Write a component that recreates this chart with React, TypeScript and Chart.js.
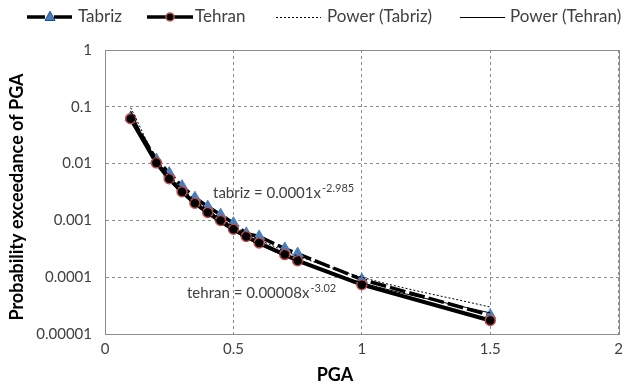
import React, { useEffect, useRef } from "react";
import { Chart, registerables } from "chart.js";

Chart.register(...registerables);

const pga = [0.1, 0.2, 0.25, 0.3, 0.35, 0.4, 0.45, 0.5, 0.55, 0.6, 0.7, 0.75, 1.0, 1.5];
const tabriz = [0.065, 0.0118, 0.0068, 0.004, 0.0025, 0.00175, 0.00126, 0.00089, 0.00059, 0.00052, 0.00032, 0.00026, 0.000091, 0.0000213];
const tehran = [0.0618, 0.0103, 0.0054, 0.0032, 0.002, 0.00138, 0.001, 0.0007, 0.00052, 0.0004, 0.00025, 0.000195, 0.000074, 0.0000173];
const tabrizPower = [0.0966, 0.0122, 0.00627, 0.00364, 0.0023, 0.00154, 0.00108, 0.00079, 0.000596, 0.000459, 0.00029, 0.000236, 0.0001, 0.0000298];
const tehranPower = [0.0838, 0.0103, 0.00526, 0.00303, 0.0019, 0.00127, 0.00089, 0.00065, 0.000487, 0.000374, 0.000235, 0.00019, 0.00008, 0.0000235];

const xTicks = [0, 0.5, 1, 1.5, 2];
const xTickLabels = ["0", "0.5", "1", "1.5", "2"];
const yTicks = [0.00001, 0.0001, 0.001, 0.01, 0.1, 1];
const yTickLabels = ["0.00001", "0.0001", "0.001", "0.01", "0.1", "1"];

const seriesNames = ["Tabriz", "Tehran", "Power (Tabriz)", "Power (Tehran)"];
const xTitle = "PGA";
const yTitle = "Probability exceedance of PGA";
const eqTabriz = ["tabriz = 0.0001x", "-2.985"];
const eqTehran = ["tehran = 0.00008x", "-3.02"];

const FONT = "Lato, 'Open Sans', sans-serif";
const TEXT = "#404040";

const pts = (ys: number[]) => pga.map((x, i) => ({ x, y: ys[i] }));

function drawTriangle(ctx: CanvasRenderingContext2D, x: number, y: number, r: number) {
  ctx.beginPath();
  ctx.moveTo(x, y - r * 1.15);
  ctx.lineTo(x + r, y + r * 0.7);
  ctx.lineTo(x - r, y + r * 0.7);
  ctx.closePath();
  ctx.fillStyle = "#4a7ebb";
  ctx.fill();
  ctx.lineWidth = 1;
  ctx.strokeStyle = "#1f4e8c";
  ctx.stroke();
}

function drawCircle(ctx: CanvasRenderingContext2D, x: number, y: number, r: number) {
  ctx.beginPath();
  ctx.arc(x, y, r, 0, Math.PI * 2);
  ctx.fillStyle = "#000";
  ctx.fill();
  ctx.lineWidth = 1.5;
  ctx.strokeStyle = "#c0504d";
  ctx.stroke();
}

const overlay = {
  id: "overlay",
  afterDraw(chart: any) {
    const { ctx, chartArea: a } = chart;
    ctx.save();
    // plot border
    ctx.setLineDash([]);
    ctx.lineWidth = 1;
    ctx.strokeStyle = "#8c8c8c";
    ctx.strokeRect(Math.round(a.left) + 0.5, Math.round(a.top) + 0.5, Math.round(a.right - a.left), Math.round(a.bottom - a.top));

    // axis titles
    ctx.fillStyle = "#000";
    ctx.font = `bold 18px ${FONT}`;
    ctx.textAlign = "center";
    ctx.textBaseline = "middle";
    ctx.fillText(xTitle, 335, 375);
    ctx.save();
    ctx.translate(17, 197);
    ctx.rotate(-Math.PI / 2);
    ctx.fillText(yTitle, 0, 0);
    ctx.restore();

    // equations
    const drawEq = (eq: string[], x: number, y: number) => {
      ctx.textAlign = "left";
      ctx.textBaseline = "alphabetic";
      ctx.fillStyle = TEXT;
      ctx.font = `15px ${FONT}`;
      ctx.fillText(eq[0], x, y);
      const w = ctx.measureText(eq[0]).width;
      ctx.font = `11px ${FONT}`;
      ctx.fillText(eq[1], x + w + 1, y - 6);
    };
    drawEq(eqTabriz, 213, 198);
    drawEq(eqTehran, 187, 298);

    // legend
    const ly = 17;
    ctx.textBaseline = "middle";
    ctx.textAlign = "left";
    ctx.font = `17px ${FONT}`;
    ctx.fillStyle = TEXT;
    // Tabriz
    ctx.strokeStyle = "#000";
    ctx.lineWidth = 3.5;
    ctx.setLineDash([18, 9]);
    ctx.beginPath();
    ctx.moveTo(27, ly);
    ctx.lineTo(73, ly);
    ctx.stroke();
    ctx.setLineDash([]);
    drawTriangle(ctx, 50, ly, 5);
    ctx.fillStyle = TEXT;
    ctx.fillText(seriesNames[0], 78, ly);
    // Tehran
    ctx.strokeStyle = "#000";
    ctx.lineWidth = 3.5;
    ctx.beginPath();
    ctx.moveTo(147, ly);
    ctx.lineTo(193, ly);
    ctx.stroke();
    drawCircle(ctx, 170, ly, 4);
    ctx.fillStyle = TEXT;
    ctx.fillText(seriesNames[1], 195, ly);
    // Power (Tabriz)
    ctx.strokeStyle = "#000";
    ctx.lineWidth = 1;
    ctx.setLineDash([2, 2]);
    ctx.beginPath();
    ctx.moveTo(276, ly + 0.5);
    ctx.lineTo(321, ly + 0.5);
    ctx.stroke();
    ctx.setLineDash([]);
    ctx.fillText(seriesNames[2], 327, ly);
    // Power (Tehran)
    ctx.beginPath();
    ctx.moveTo(460, ly + 0.5);
    ctx.lineTo(505, ly + 0.5);
    ctx.stroke();
    ctx.fillText(seriesNames[3], 510, ly);
    ctx.restore();
  },
};

export default function App() {
  const ref = useRef<HTMLCanvasElement>(null);
  useEffect(() => {
    if (!ref.current) return;
    const chart = new Chart(ref.current, {
      type: "line",
      data: {
        datasets: [
          {
            label: seriesNames[2],
            data: pts(tabrizPower),
            borderColor: "#000",
            borderWidth: 1,
            borderDash: [2, 2],
            pointRadius: 0,
            cubicInterpolationMode: "monotone",
            order: 0,
          },
          {
            label: seriesNames[3],
            data: pts(tehranPower),
            borderColor: "#000",
            borderWidth: 1,
            pointRadius: 0,
            cubicInterpolationMode: "monotone",
            order: 1,
          },
          {
            label: seriesNames[1],
            data: pts(tehran),
            borderColor: "#000",
            borderWidth: 4,
            pointStyle: "circle",
            pointRadius: 5,
            pointBackgroundColor: "#000",
            pointBorderColor: "#c0504d",
            pointBorderWidth: 1.5,
            order: 2,
          },
          {
            label: seriesNames[0],
            data: pts(tabriz),
            borderColor: "#000",
            borderWidth: 3.5,
            borderDash: [16, 4],
            pointStyle: "triangle",
            pointRadius: 6.5,
            pointBackgroundColor: "#4a7ebb",
            pointBorderColor: "#4a7ebb",
            pointBorderWidth: 1,
            order: 3,
          },
        ],
      },
      options: {
        animation: false,
        responsive: false,
        devicePixelRatio: 1,
        parsing: false as any,
        layout: { padding: { top: 50, right: 4, left: 0, bottom: 0 } },
        plugins: { legend: { display: false }, tooltip: { enabled: false } },
        scales: {
          x: {
            type: "linear",
            min: 0,
            max: 2,
            afterBuildTicks: (s: any) => {
              s.ticks = xTicks.map((v) => ({ value: v }));
            },
            afterFit: (s: any) => {
              s.height = 52;
            },
            ticks: {
              padding: 6,
              color: TEXT,
              font: { family: FONT, size: 15 },
              callback: (v: any) => xTickLabels[xTicks.indexOf(Number(v))] ?? "",
              maxRotation: 0,
            },
            grid: { color: "#8c8c8c", drawTicks: false },
            border: { display: true, color: "#8c8c8c", dash: [3, 3] },
          },
          y: {
            type: "logarithmic",
            min: 0.00001,
            max: 1,
            afterBuildTicks: (s: any) => {
              s.ticks = yTicks.map((v) => ({ value: v }));
            },
            afterFit: (s: any) => {
              s.width = 105;
            },
            ticks: {
              padding: 13,
              color: TEXT,
              font: { family: FONT, size: 15 },
              callback: (v: any) => {
                const i = yTicks.findIndex((t) => Math.abs(Math.log10(t) - Math.log10(Number(v))) < 1e-6);
                return i >= 0 ? yTickLabels[i] : "";
              },
            },
            grid: { color: "#8c8c8c", drawTicks: false },
            border: { display: true, color: "#8c8c8c", dash: [3, 3] },
          },
        },
      },
      plugins: [overlay],
    });
    return () => chart.destroy();
  }, []);
  return (
    <div style={{ position: "absolute", left: 0, top: 0, width: 629, height: 386, background: "#fff" }}>
      <canvas ref={ref} width={629} height={386} style={{ display: "block" }} />
    </div>
  );
}
